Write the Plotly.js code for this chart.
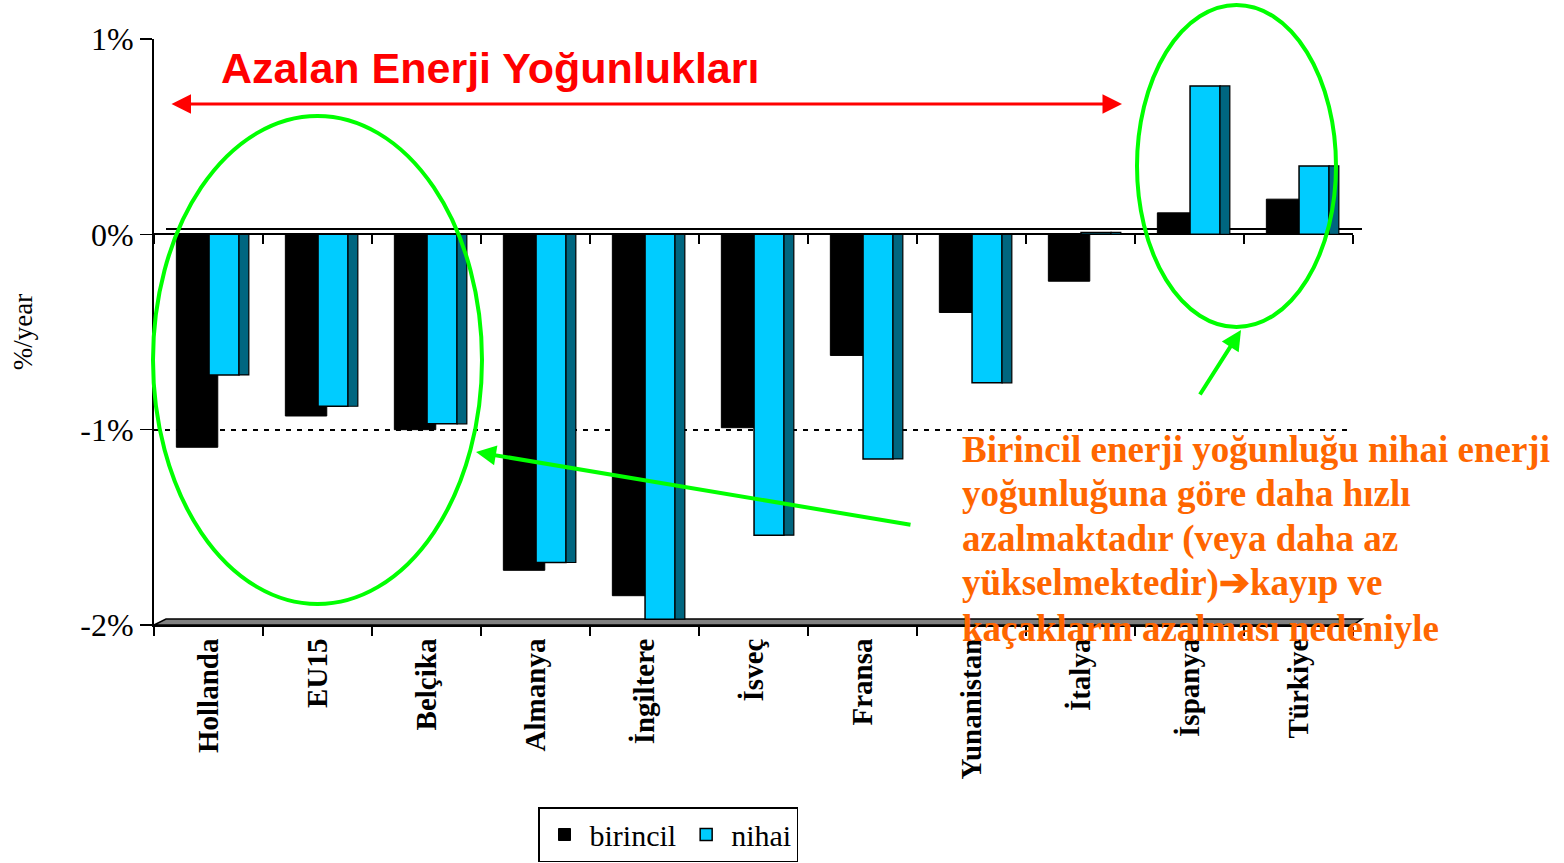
<!DOCTYPE html>
<html><head><meta charset="utf-8">
<script src="https://cdn.plot.ly/plotly-3.0.1.min.js"></script>
<style>html,body{margin:0;padding:0;background:#fff}#chart{width:1564px;height:863px}</style>
</head><body><div id="chart"></div>
<script>
const categories = ['Hollanda','EU15','Belçika','Almanya','İngiltere','İsveç','Fransa','Yunanistan','İtalya','İspanya','Türkiye'];
const birincil = [-1.09,-0.93,-1.00,-1.72,-1.85,-0.99,-0.62,-0.40,-0.24,0.11,0.18];
const nihai = [-0.72,-0.88,-0.97,-1.68,-1.97,-1.54,-1.15,-0.76,0.01,0.76,0.35];
const yTickValues = [-2,-1,0,1];
const yTickLabels = ['-2%','-1%','0%','1%'];
const seriesNames = ['birincil','nihai'];
const titleText = 'Azalan Enerji Yoğunlukları';
const noteLines = ['Birincil enerji yoğunluğu nihai enerji','yoğunluğuna göre daha hızlı','azalmaktadır (veya daha az','yükselmektedir)➔kayıp ve','kaçakların azalması nedeniyle'];

const W=1564,H=863,L=154,R=1353,T=39,B=625;
const yMin=-2,yMax=1;
const px=x=>(x-L)/(R-L), py=y=>(B-y)/(B-T);
const serif='"Liberation Serif","Times New Roman",serif';
const sans='"Liberation Sans",Arial,sans-serif';
const idx=categories.map((c,i)=>i);
const bounds=categories.map((c,i)=>i-0.5).concat([categories.length-0.5]);

const traces=[
 {type:'bar',name:seriesNames[0],x:categories,y:birincil,offset:-0.295,width:0.38,
  marker:{color:'#000000',line:{color:'#000000',width:1}},hoverinfo:'skip'},
 {type:'bar',name:seriesNames[1],x:categories,y:nihai,offset:0.005,width:0.275,
  marker:{color:'#00CCFF',line:{color:'#000000',width:1.5}},hoverinfo:'skip'},
 {type:'bar',name:'side',showlegend:false,x:idx,y:nihai,xaxis:'x2',offset:0.28,width:0.09,
  marker:{color:'#006680',line:{color:'#000000',width:1.2}},hoverinfo:'skip'}
];

const green='#00FF00';
const layout={
 width:W,height:H,margin:{l:L,r:W-R,t:T,b:H-B,autoexpand:false},
 paper_bgcolor:'#fff',plot_bgcolor:'#fff',barmode:'overlay',hovermode:false,
 font:{family:serif,color:'#000'},
 xaxis:{type:'category',automargin:false,range:[-0.5,categories.length-0.5],tickson:'boundaries',ticks:'outside',ticklen:9,tickwidth:1.5,tickcolor:'#000',
  showline:true,linecolor:'#000',linewidth:2,showgrid:false,zeroline:false,tickangle:-90,
  tickfont:{family:serif,size:29,color:'#000',weight:'bold'}},
 xaxis2:{type:'linear',automargin:false,overlaying:'x',anchor:'free',position:(0-yMin)/(yMax-yMin),range:[-0.5,categories.length-0.5],
  tickvals:bounds,ticks:'outside',ticklen:9,tickwidth:1.5,tickcolor:'#000',showticklabels:false,showgrid:false,zeroline:false,showline:false},
 yaxis:{automargin:false,range:[yMin,yMax],tickvals:yTickValues,ticktext:yTickLabels,ticks:'outside',ticklen:12,tickwidth:1.5,tickcolor:'#000',
  showline:true,linecolor:'#000',linewidth:2,showgrid:true,gridcolor:'#000',gridwidth:2,griddash:'5px,6px',
  zeroline:true,zerolinecolor:'#000',zerolinewidth:2,
  tickfont:{family:serif,size:32,color:'#000'},
  title:{text:'%/year',font:{family:serif,size:27,color:'#000'},standoff:40}},
 legend:{orientation:'h',x:px(538),xanchor:'left',y:py(862),yanchor:'bottom',bordercolor:'#000',borderwidth:1.5,bgcolor:'#fff',
  font:{family:serif,size:30,color:'#000'},itemwidth:40},
 shapes:[
  {type:'path',xref:'paper',yref:'paper',layer:'below',
   path:`M ${px(154)} ${py(625)} L ${px(166)} ${py(619)} L ${px(1362)} ${py(619)} L ${px(1353)} ${py(625)} Z`,
   fillcolor:'#808080',line:{color:'#000',width:1.5}},
  {type:'line',xref:'paper',yref:'paper',layer:'below',x0:px(166),x1:px(1362),y0:py(229),y1:py(229),line:{color:'#000',width:2}},
  {type:'circle',xref:'paper',yref:'paper',x0:px(153),x1:px(482),y0:py(604),y1:py(116),line:{color:green,width:4}},
  {type:'circle',xref:'paper',yref:'paper',x0:px(1137),x1:px(1336),y0:py(327),y1:py(5),line:{color:green,width:4}}
 ],
 annotations:[
  {xref:'paper',yref:'paper',x:px(219),y:py(68),xanchor:'left',yanchor:'middle',showarrow:false,text:titleText,
   font:{family:sans,size:43,color:'#FF0000',weight:'bold'}},
  {xref:'paper',yref:'paper',x:px(1122),y:py(104),ax:170-1122,ay:0,axref:'pixel',ayref:'pixel',text:'',showarrow:true,
   arrowside:'end+start',arrowhead:2,arrowsize:1.3,arrowwidth:3,arrowcolor:'#FF0000'},
  {xref:'paper',yref:'paper',x:px(476),y:py(452),ax:912-476,ay:525-452,text:'',showarrow:true,arrowhead:2,arrowsize:1,arrowwidth:4,arrowcolor:green},
  {xref:'paper',yref:'paper',x:px(1241),y:py(330),ax:-42,ay:66,text:'',showarrow:true,arrowhead:2,arrowsize:1,arrowwidth:4,arrowcolor:green}
 ].concat(noteLines.map((t,i)=>({xref:'paper',yref:'paper',x:px(960),y:py(449+i*44.8),xanchor:'left',yanchor:'middle',showarrow:false,
   text:t,font:{family:serif,size:37,color:'#FF6600',weight:'bold'}})))
};
Plotly.newPlot('chart',traces,layout,{displayModeBar:false,staticPlot:true});
</script></body></html>
